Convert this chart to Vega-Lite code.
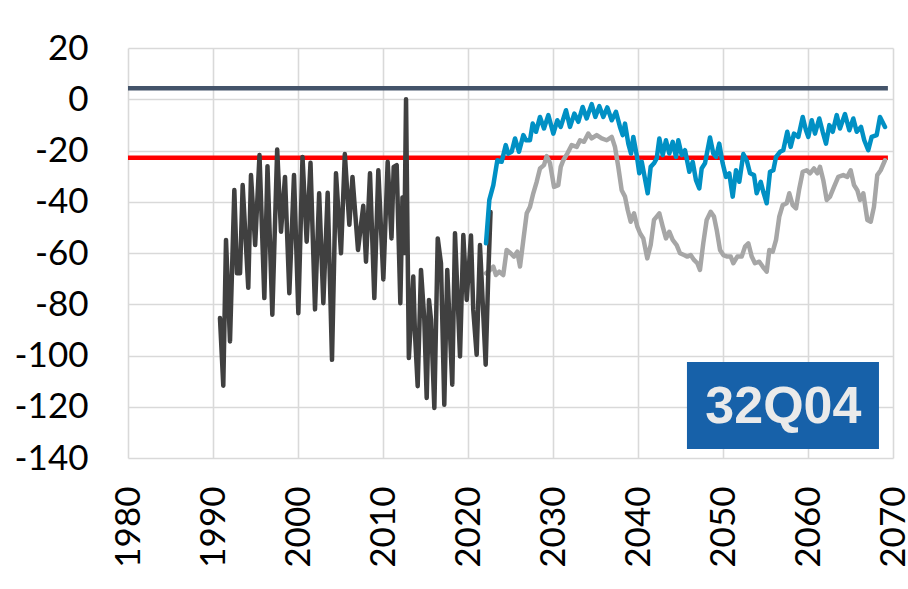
{
  "$schema": "https://vega.github.io/schema/vega-lite/v6.json",
  "width": 765,
  "height": 410,
  "autosize": {"type": "none"},
  "padding": {"left": 128, "top": 48, "right": 15, "bottom": 131},
  "background": "white",
  "config": {"view": {"stroke": null}, "font": "Lato"},
  "datasets": {
    "thresholds": [
      {"kind": "upper", "level": 4.3, "start": 1980, "end": 2069.4},
      {"kind": "limit", "level": -22.8, "start": 1980, "end": 2069.4}
    ],
    "observed": [
      {"year": 1990.82, "value": -85.4}, {"year": 1991.21, "value": -111.8}, {"year": 1991.53, "value": -54.9},
      {"year": 1992.0, "value": -94.5}, {"year": 1992.51, "value": -35.4}, {"year": 1992.82, "value": -67.9},
      {"year": 1993.18, "value": -67.9}, {"year": 1993.49, "value": -33.5}, {"year": 1994.15, "value": -73.6},
      {"year": 1994.47, "value": -29.6}, {"year": 1994.96, "value": -56.9}, {"year": 1995.47, "value": -21.8},
      {"year": 1996.04, "value": -77.6}, {"year": 1996.41, "value": -26.1}, {"year": 1996.98, "value": -84.1},
      {"year": 1997.55, "value": -19.6}, {"year": 1998.0, "value": -51.7}, {"year": 1998.47, "value": -30.3},
      {"year": 1998.98, "value": -75.7}, {"year": 1999.53, "value": -29.6}, {"year": 2000.04, "value": -83.5},
      {"year": 2000.53, "value": -22.5}, {"year": 2001.02, "value": -55.6}, {"year": 2001.47, "value": -24.8},
      {"year": 2002.0, "value": -82.0}, {"year": 2002.49, "value": -36.7}, {"year": 2002.98, "value": -79.6},
      {"year": 2003.49, "value": -36.5}, {"year": 2004.0, "value": -101.7}, {"year": 2004.47, "value": -28.9},
      {"year": 2005.06, "value": -60.1}, {"year": 2005.51, "value": -21.4}, {"year": 2006.04, "value": -49.0},
      {"year": 2006.41, "value": -30.3}, {"year": 2007.06, "value": -58.8}, {"year": 2007.68, "value": -41.6},
      {"year": 2008.0, "value": -63.4}, {"year": 2008.47, "value": -28.9}, {"year": 2008.98, "value": -77.6},
      {"year": 2009.45, "value": -27.7}, {"year": 2010.04, "value": -70.3}, {"year": 2010.55, "value": -24.4},
      {"year": 2011.0, "value": -54.3}, {"year": 2011.26, "value": -26.4}, {"year": 2011.61, "value": -25.7},
      {"year": 2012.04, "value": -79.6}, {"year": 2012.29, "value": -38.3}, {"year": 2012.5, "value": -60.0},
      {"year": 2012.71, "value": 0.0}, {"year": 2013.04, "value": -101.0}, {"year": 2013.56, "value": -69.2},
      {"year": 2013.76, "value": -91.3}, {"year": 2014.08, "value": -112.0}, {"year": 2014.47, "value": -66.6},
      {"year": 2014.86, "value": -86.0}, {"year": 2015.14, "value": -116.6}, {"year": 2015.41, "value": -78.3},
      {"year": 2015.65, "value": -86.0}, {"year": 2016.04, "value": -120.5}, {"year": 2016.44, "value": -54.3},
      {"year": 2016.82, "value": -64.0}, {"year": 2017.21, "value": -119.2}, {"year": 2017.56, "value": -66.6},
      {"year": 2018.15, "value": -111.4}, {"year": 2018.47, "value": -52.3}, {"year": 2019.06, "value": -100.4},
      {"year": 2019.45, "value": -53.0}, {"year": 2019.85, "value": -78.3}, {"year": 2020.35, "value": -53.2},
      {"year": 2020.62, "value": -82.2}, {"year": 2021.02, "value": -99.7}, {"year": 2021.41, "value": -56.9},
      {"year": 2021.8, "value": -84.1}, {"year": 2022.08, "value": -103.6}, {"year": 2022.39, "value": -67.9},
      {"year": 2022.65, "value": -44.0}
    ],
    "projection_high": [
      {"year": 2022.12, "value": -56.2}, {"year": 2022.51, "value": -39.3}, {"year": 2022.98, "value": -33.5},
      {"year": 2023.45, "value": -23.8}, {"year": 2023.96, "value": -24.4}, {"year": 2024.44, "value": -17.9},
      {"year": 2024.74, "value": -21.2}, {"year": 2025.14, "value": -20.5}, {"year": 2025.53, "value": -15.3},
      {"year": 2026.0, "value": -20.5}, {"year": 2026.51, "value": -14.0}, {"year": 2026.82, "value": -16.0},
      {"year": 2027.29, "value": -16.0}, {"year": 2027.61, "value": -9.5}, {"year": 2028.0, "value": -12.7},
      {"year": 2028.47, "value": -6.9}, {"year": 2028.94, "value": -11.4}, {"year": 2029.45, "value": -6.2},
      {"year": 2030.04, "value": -13.4}, {"year": 2030.51, "value": -8.2}, {"year": 2030.91, "value": -10.8},
      {"year": 2031.53, "value": -4.3}, {"year": 2032.0, "value": -10.8}, {"year": 2032.51, "value": -5.6},
      {"year": 2032.98, "value": -8.8}, {"year": 2033.49, "value": -3.0}, {"year": 2033.96, "value": -7.5},
      {"year": 2034.55, "value": -1.9}, {"year": 2034.98, "value": -6.9}, {"year": 2035.45, "value": -2.7},
      {"year": 2035.92, "value": -6.9}, {"year": 2036.39, "value": -3.2}, {"year": 2036.91, "value": -8.2},
      {"year": 2037.41, "value": -4.9}, {"year": 2037.88, "value": -10.8}, {"year": 2038.2, "value": -14.0},
      {"year": 2038.47, "value": -9.5}, {"year": 2038.86, "value": -17.3}, {"year": 2039.18, "value": -21.2},
      {"year": 2039.45, "value": -14.7}, {"year": 2039.85, "value": -21.8}, {"year": 2040.15, "value": -28.9},
      {"year": 2040.44, "value": -24.4}, {"year": 2040.74, "value": -29.6}, {"year": 2041.14, "value": -36.7},
      {"year": 2041.49, "value": -26.4}, {"year": 2041.88, "value": -25.0}, {"year": 2042.2, "value": -23.1},
      {"year": 2042.51, "value": -15.3}, {"year": 2042.91, "value": -21.8}, {"year": 2043.29, "value": -16.0},
      {"year": 2043.68, "value": -21.2}, {"year": 2044.08, "value": -16.6}, {"year": 2044.47, "value": -22.5},
      {"year": 2044.74, "value": -16.0}, {"year": 2045.14, "value": -21.8}, {"year": 2045.53, "value": -19.9},
      {"year": 2046.04, "value": -28.3}, {"year": 2046.44, "value": -24.4}, {"year": 2046.82, "value": -31.6},
      {"year": 2047.21, "value": -34.8}, {"year": 2047.49, "value": -27.0}, {"year": 2047.88, "value": -25.0},
      {"year": 2048.47, "value": -14.9}, {"year": 2048.86, "value": -21.2}, {"year": 2049.18, "value": -22.5},
      {"year": 2049.56, "value": -17.3}, {"year": 2049.96, "value": -25.0}, {"year": 2050.35, "value": -30.3},
      {"year": 2050.74, "value": -28.9}, {"year": 2051.14, "value": -38.0}, {"year": 2051.53, "value": -27.7},
      {"year": 2051.92, "value": -32.2}, {"year": 2052.39, "value": -21.4}, {"year": 2052.79, "value": -23.8},
      {"year": 2053.18, "value": -28.9}, {"year": 2053.65, "value": -29.6}, {"year": 2053.96, "value": -36.7},
      {"year": 2054.44, "value": -32.2}, {"year": 2054.74, "value": -36.1}, {"year": 2055.14, "value": -40.6},
      {"year": 2055.53, "value": -28.3}, {"year": 2055.92, "value": -27.7}, {"year": 2056.24, "value": -22.5},
      {"year": 2056.71, "value": -20.5}, {"year": 2057.09, "value": -19.9}, {"year": 2057.56, "value": -12.7},
      {"year": 2057.96, "value": -18.6}, {"year": 2058.35, "value": -13.4}, {"year": 2058.86, "value": -14.7},
      {"year": 2059.38, "value": -6.9}, {"year": 2059.76, "value": -12.1}, {"year": 2060.04, "value": -14.7},
      {"year": 2060.44, "value": -8.2}, {"year": 2060.82, "value": -13.4}, {"year": 2061.33, "value": -7.5},
      {"year": 2061.73, "value": -12.7}, {"year": 2062.12, "value": -17.3}, {"year": 2062.51, "value": -10.1},
      {"year": 2062.91, "value": -12.7}, {"year": 2063.38, "value": -6.2}, {"year": 2063.76, "value": -11.4},
      {"year": 2064.35, "value": -5.8}, {"year": 2064.86, "value": -12.1}, {"year": 2065.33, "value": -7.5},
      {"year": 2065.73, "value": -12.7}, {"year": 2066.24, "value": -10.8}, {"year": 2066.62, "value": -16.0},
      {"year": 2067.09, "value": -19.9}, {"year": 2067.49, "value": -14.7}, {"year": 2068.08, "value": -14.0},
      {"year": 2068.47, "value": -6.9}, {"year": 2069.06, "value": -10.8}
    ],
    "projection_low": [
      {"year": 2022.12, "value": -67.9}, {"year": 2022.59, "value": -66.6}, {"year": 2022.98, "value": -65.3},
      {"year": 2023.29, "value": -68.6}, {"year": 2023.68, "value": -67.3}, {"year": 2024.15, "value": -68.6},
      {"year": 2024.55, "value": -58.8}, {"year": 2025.02, "value": -60.1}, {"year": 2025.41, "value": -61.4},
      {"year": 2025.8, "value": -59.5}, {"year": 2026.12, "value": -65.3}, {"year": 2026.51, "value": -54.9},
      {"year": 2026.91, "value": -44.5}, {"year": 2027.29, "value": -42.0}, {"year": 2027.68, "value": -36.7},
      {"year": 2028.08, "value": -32.2}, {"year": 2028.47, "value": -27.0}, {"year": 2028.94, "value": -25.7},
      {"year": 2029.26, "value": -22.2}, {"year": 2029.65, "value": -25.0}, {"year": 2030.12, "value": -34.2},
      {"year": 2030.62, "value": -33.5}, {"year": 2030.91, "value": -26.4}, {"year": 2031.21, "value": -23.8},
      {"year": 2031.68, "value": -21.2}, {"year": 2032.2, "value": -17.9}, {"year": 2032.79, "value": -18.6},
      {"year": 2033.18, "value": -16.0}, {"year": 2033.65, "value": -16.6}, {"year": 2034.15, "value": -13.4},
      {"year": 2034.55, "value": -15.3}, {"year": 2035.14, "value": -14.0}, {"year": 2035.73, "value": -15.3},
      {"year": 2036.32, "value": -16.0}, {"year": 2036.91, "value": -14.7}, {"year": 2037.29, "value": -18.6},
      {"year": 2037.68, "value": -26.4}, {"year": 2038.08, "value": -35.5}, {"year": 2038.47, "value": -38.0},
      {"year": 2038.79, "value": -43.2}, {"year": 2039.14, "value": -47.8}, {"year": 2039.53, "value": -44.5},
      {"year": 2039.92, "value": -49.7}, {"year": 2040.24, "value": -52.3}, {"year": 2040.62, "value": -54.3},
      {"year": 2041.09, "value": -62.1}, {"year": 2041.49, "value": -56.9}, {"year": 2041.88, "value": -47.1},
      {"year": 2042.2, "value": -45.8}, {"year": 2042.51, "value": -44.5}, {"year": 2042.91, "value": -49.7},
      {"year": 2043.29, "value": -54.3}, {"year": 2043.68, "value": -51.7}, {"year": 2044.08, "value": -54.9},
      {"year": 2044.55, "value": -56.9}, {"year": 2044.94, "value": -60.1}, {"year": 2045.41, "value": -60.8},
      {"year": 2045.8, "value": -61.4}, {"year": 2046.2, "value": -60.8}, {"year": 2046.59, "value": -62.7},
      {"year": 2046.98, "value": -64.0}, {"year": 2047.29, "value": -66.6}, {"year": 2047.68, "value": -56.2},
      {"year": 2048.08, "value": -47.1}, {"year": 2048.55, "value": -43.9}, {"year": 2048.94, "value": -45.8},
      {"year": 2049.26, "value": -51.0}, {"year": 2049.65, "value": -58.8}, {"year": 2050.04, "value": -60.8},
      {"year": 2050.51, "value": -61.4}, {"year": 2050.91, "value": -61.4}, {"year": 2051.21, "value": -64.0},
      {"year": 2051.68, "value": -61.4}, {"year": 2052.2, "value": -61.4}, {"year": 2052.59, "value": -57.5},
      {"year": 2052.98, "value": -56.2}, {"year": 2053.38, "value": -61.4}, {"year": 2053.76, "value": -64.0},
      {"year": 2054.27, "value": -63.4}, {"year": 2054.67, "value": -65.3}, {"year": 2055.14, "value": -67.3},
      {"year": 2055.45, "value": -58.8}, {"year": 2055.85, "value": -59.5}, {"year": 2056.24, "value": -54.9},
      {"year": 2056.62, "value": -45.8}, {"year": 2057.02, "value": -41.3}, {"year": 2057.49, "value": -40.6},
      {"year": 2057.8, "value": -36.7}, {"year": 2058.2, "value": -41.3}, {"year": 2058.59, "value": -42.6},
      {"year": 2058.98, "value": -34.8}, {"year": 2059.38, "value": -28.3}, {"year": 2059.85, "value": -27.7},
      {"year": 2060.24, "value": -28.9}, {"year": 2060.71, "value": -27.0}, {"year": 2061.09, "value": -28.9},
      {"year": 2061.41, "value": -26.4}, {"year": 2061.8, "value": -31.6}, {"year": 2062.2, "value": -39.3},
      {"year": 2062.59, "value": -38.0}, {"year": 2063.06, "value": -34.2}, {"year": 2063.56, "value": -30.3},
      {"year": 2064.15, "value": -29.6}, {"year": 2064.62, "value": -30.3}, {"year": 2065.02, "value": -27.7},
      {"year": 2065.41, "value": -33.5}, {"year": 2065.8, "value": -35.5}, {"year": 2066.12, "value": -39.3},
      {"year": 2066.51, "value": -36.7}, {"year": 2066.98, "value": -47.1}, {"year": 2067.38, "value": -47.8},
      {"year": 2067.76, "value": -42.0}, {"year": 2068.15, "value": -29.6}, {"year": 2068.55, "value": -27.7},
      {"year": 2069.06, "value": -23.8}
    ]
  },
  "layer": [
    {
      "data": {"name": "thresholds"},
      "mark": {"type": "rule", "strokeWidth": 4.5},
      "encoding": {
        "x": {
          "field": "start", "type": "quantitative",
          "scale": {"domain": [1980, 2070], "nice": false, "zero": false},
          "axis": {
            "title": null,
            "values": [1980, 1990, 2000, 2010, 2020, 2030, 2040, 2050, 2060, 2070],
            "labelExpr": "toString(datum.value)",
            "labelAngle": -90, "labelAlign": "right", "labelBaseline": "middle",
            "labelFont": "Lato", "labelFontSize": 35, "labelColor": "#000000",
            "labelPadding": 28, "labelOverlap": false, "labelFlush": false,
            "ticks": false, "tickSize": 0, "domain": false,
            "grid": true, "gridColor": "#D9D9D9", "gridWidth": 1.6
          }
        },
        "x2": {"field": "end"},
        "y": {
          "field": "level", "type": "quantitative",
          "scale": {"domain": [-140, 20], "nice": false, "zero": false},
          "axis": {
            "title": null,
            "values": [-140, -120, -100, -80, -60, -40, -20, 0, 20],
            "labelExpr": "toString(datum.value)",
            "labelFont": "Lato", "labelFontSize": 35, "labelColor": "#000000",
            "labelPadding": 40, "labelOverlap": false, "labelFlush": false,
            "ticks": false, "tickSize": 0, "domain": false,
            "grid": true, "gridColor": "#D9D9D9", "gridWidth": 1.6
          }
        },
        "color": {
          "field": "kind", "type": "nominal", "legend": null,
          "scale": {"domain": ["upper", "limit"], "range": ["#44546A", "#FF0000"]}
        }
      }
    },
    {
      "data": {"name": "projection_low"},
      "mark": {"type": "line", "color": "#A6A6A6", "strokeWidth": 4.5, "strokeJoin": "round", "strokeCap": "round"},
      "encoding": {
        "x": {"field": "year", "type": "quantitative"},
        "y": {"field": "value", "type": "quantitative"}
      }
    },
    {
      "data": {"name": "observed"},
      "mark": {"type": "line", "color": "#404040", "strokeWidth": 4.5, "strokeJoin": "round", "strokeCap": "round"},
      "encoding": {
        "x": {"field": "year", "type": "quantitative"},
        "y": {"field": "value", "type": "quantitative"}
      }
    },
    {
      "data": {"name": "projection_high"},
      "mark": {"type": "line", "color": "#0090C4", "strokeWidth": 4.5, "strokeJoin": "round", "strokeCap": "round"},
      "encoding": {
        "x": {"field": "year", "type": "quantitative"},
        "y": {"field": "value", "type": "quantitative"}
      }
    },
    {
      "data": {"values": [{"label": "32Q04"}]},
      "layer": [
        {
          "mark": {"type": "rect", "color": "#1761A9"},
          "encoding": {
            "x": {"datum": 2045.76, "type": "quantitative"},
            "x2": {"datum": 2068.35},
            "y": {"datum": -102.5, "type": "quantitative"},
            "y2": {"datum": -136.5}
          }
        },
        {
          "mark": {"type": "text", "font": "Liberation Sans", "fontWeight": "bold", "fontSize": 52, "color": "#EAEAEA", "align": "center", "baseline": "middle", "dy": 2},
          "encoding": {
            "x": {"datum": 2057.1, "type": "quantitative"},
            "y": {"datum": -119.5, "type": "quantitative"},
            "text": {"field": "label"}
          }
        }
      ]
    }
  ]
}
